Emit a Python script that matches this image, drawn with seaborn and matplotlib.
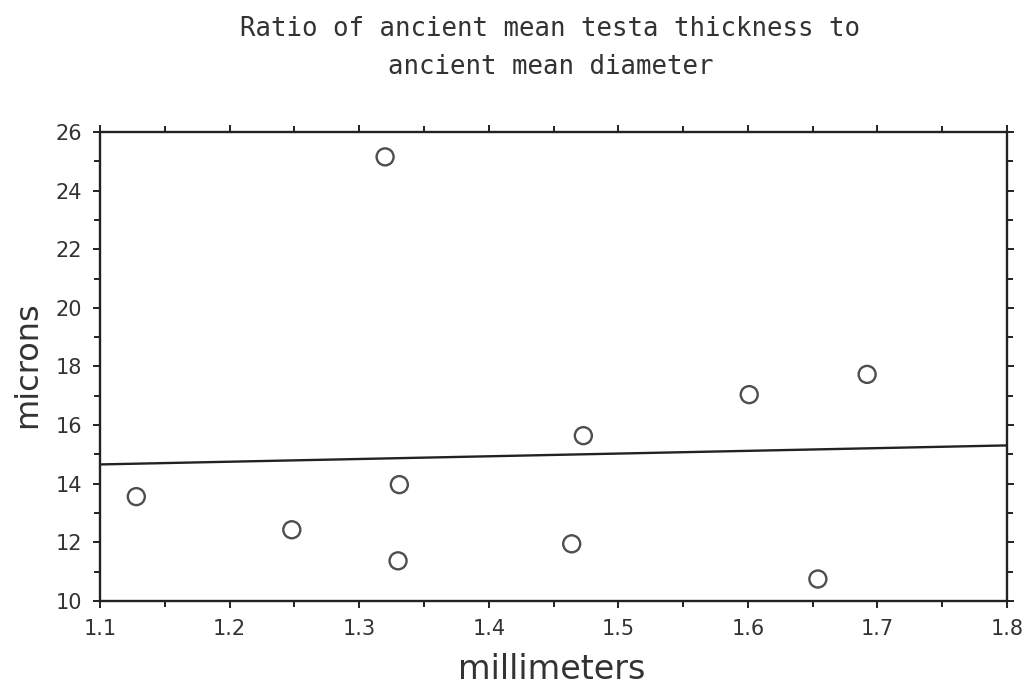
import numpy as np
import pandas as pd
import matplotlib
matplotlib.use("Agg")
import matplotlib.pyplot as plt
from matplotlib.ticker import MultipleLocator, FormatStrFormatter
import seaborn as sns

# Data
diameter_mm = [1.128, 1.248, 1.331, 1.330, 1.464, 1.473, 1.601, 1.654, 1.692, 1.320]
thickness_um = [13.56, 12.43, 13.97, 11.37, 11.95, 15.64, 17.04, 10.75, 17.73, 25.15]

title = "Ratio of ancient mean testa thickness to\nancient mean diameter"
xlabel = "millimeters"
ylabel = "microns"

sns.set_theme(style="ticks")
plt.rcParams["font.family"] = ["DejaVu Sans"]

df = pd.DataFrame({"mm": diameter_mm, "um": thickness_um})

fig = plt.figure(figsize=(10.27, 6.96), dpi=100)
ax = fig.add_axes([0.0974, 0.1365, 0.8832, 0.6739])
ax.set_xlim(1.1, 1.8)
ax.set_ylim(10, 26)

ink = "#222222"
sns.regplot(data=df, x="mm", y="um", ax=ax, ci=None, truncate=False,
            scatter_kws=dict(s=150, facecolors="none", edgecolors=ink,
                             linewidths=1.7, zorder=3),
            line_kws=dict(color=ink, lw=1.7), color=ink)

ax.set_xlim(1.1, 1.8)
ax.set_ylim(10, 26)
ax.xaxis.set_major_locator(MultipleLocator(0.1))
ax.xaxis.set_minor_locator(MultipleLocator(0.05))
ax.yaxis.set_major_locator(MultipleLocator(2))
ax.yaxis.set_minor_locator(MultipleLocator(1))
ax.xaxis.set_major_formatter(FormatStrFormatter("%.1f"))

for s in ax.spines.values():
    s.set_visible(True)
    s.set_color(ink)
    s.set_linewidth(1.7)

ax.tick_params(which="both", direction="out", top=True, right=True,
               color=ink, width=1.4, labelsize=15, labelcolor="#333333")
ax.tick_params(which="major", length=5)
ax.tick_params(which="minor", length=4)
ax.tick_params(axis="x", which="both", labeltop=False, pad=8)
ax.tick_params(axis="y", which="both", labelright=False, pad=8)

ax.set_xlabel(xlabel, fontsize=24, color="#333333")
ax.set_ylabel(ylabel, fontsize=23, color="#333333")
ax.xaxis.set_label_coords(0.498, -0.11)
ax.yaxis.set_label_coords(-0.063, 0.505)

fig.text(0.536, 0.977, title, ha="center", va="top", fontsize=18.5,
         family=["DejaVu Sans Mono"], color="#333333", linespacing=1.6)

fig.savefig("out.png", dpi=100, facecolor="white")
